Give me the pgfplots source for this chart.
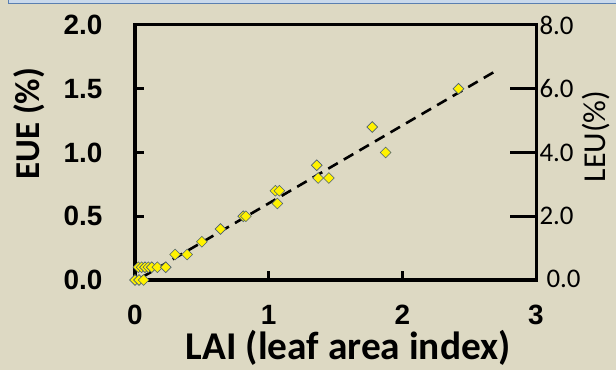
\documentclass[border=0pt]{standalone}
\usepackage{fontspec}
\setmainfont{Carlito}
\newfontfamily\arialf{Liberation Sans}
\usepackage{pgfplots}
\pgfplotsset{compat=1.18}
\definecolor{bg}{HTML}{DDD9C3}
\definecolor{mkedge}{HTML}{4A5F73}
\definecolor{topblue}{HTML}{5A7FB0}
\definecolor{topfill}{HTML}{C9D9EC}
\begin{document}
\begin{tikzpicture}
\fill[bg] (0bp,0bp) rectangle (616bp,370bp);
\useasboundingbox (0bp,0bp) rectangle (616bp,370bp);
\fill[topfill] (8bp,366bp) rectangle (616bp,370bp);
\draw[topblue, line width=1.2bp] (8bp,366.5bp) -- (616bp,366.5bp) (8.6bp,366.5bp) -- (8.6bp,370bp);
\begin{axis}[
  at={(135bp,90bp)}, anchor=south west,
  scale only axis, width=401bp, height=255bp,
  xmin=0, xmax=3, ymin=0, ymax=2,
  clip=false,
  axis line style={line width=3bp},
  xtick={0,1,2,3}, ytick={0,0.5,1,1.5,2},
  xtick pos=bottom, ytick pos=left,
  tick align=inside,
  major tick length=9bp,
  tick style={line width=2.6bp, black},
  xticklabel style={font=\arialf\bfseries\fontsize{28}{28}\selectfont, yshift=-22bp},
  yticklabel style={font=\arialf\bfseries\fontsize{28}{28}\selectfont, xshift=-29bp},
  yticklabels={0.0,0.5,1.0,1.5,2.0},
  xticklabels={0,1,2,3},
  xlabel={LAI (leaf area index)},
  xlabel style={font=\bfseries\fontsize{39.5}{39.5}\selectfont, at={(axis description cs:0.532,-0.312)}, anchor=base},
  ylabel={EUE (\%)},
  ylabel style={font=\bfseries\fontsize{35}{35}\selectfont, at={(axis description cs:-0.264,0.613)}, anchor=center},
]
\addplot[black, line width=2.6bp, dash pattern=on 11bp off 7bp] coordinates {(0.05,0.02) (2.70,1.64)};
\addplot[only marks, mark=square*, mark size=3.8bp,
  mark options={rotate=45, fill=yellow, draw=mkedge, line width=0.6bp, solid}]
  coordinates {
  (0,0) (0.03,0) (0.065,0)
  (0.025,0.1) (0.05,0.1) (0.075,0.1) (0.1,0.1) (0.125,0.1) (0.167,0.1) (0.23,0.1)
  (0.3,0.2) (0.39,0.2) (0.5,0.3) (0.64,0.4) (0.81,0.5) (0.83,0.5)
  (1.05,0.7) (1.08,0.7) (1.065,0.6) (1.36,0.9) (1.37,0.8) (1.45,0.8)
  (1.775,1.2) (1.875,1.0) (2.42,1.5)
  };
\end{axis}
\begin{axis}[
  at={(135bp,90bp)}, anchor=south west,
  scale only axis, width=401bp, height=255bp,
  xmin=0, xmax=3, ymin=0, ymax=8,
  axis x line=none, axis y line*=right,
  axis line style={line width=3bp, -},
  ytick={0,2,4,6,8},
  yticklabels={\raisebox{3bp}{\hspace*{7bp}0.0},2.0,4.0,6.0,8.0},
  tick align=inside,
  major tick length=26bp,
  tick style={line width=2.6bp, black},
  yticklabel style={font=\fontsize{27}{27}\selectfont, xshift=0bp},
  ylabel={LEU(\%)},
  ylabel style={font=\fontsize{32}{32}\selectfont, at={(axis description cs:1.1496,0.563)}, anchor=center, rotate=0},
]
\end{axis}
\end{tikzpicture}
\end{document}
